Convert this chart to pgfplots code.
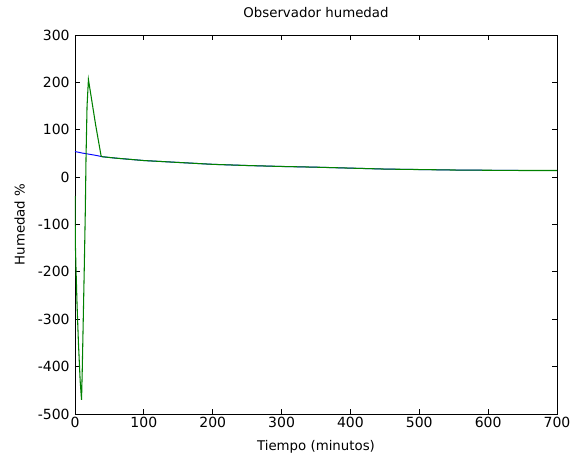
\documentclass[border=0pt]{standalone}
\usepackage{pgfplots}
\pgfplotsset{compat=1.18}
\usepackage{fontspec}
\setmainfont{DejaVu Sans}
\definecolor{mgreen}{rgb}{0,0.5,0}
\begin{document}
\begin{tikzpicture}
\useasboundingbox (-56.25pt,-31.5pt) rectangle (372pt,310.5pt);
\begin{axis}[
  at={(0,0)}, anchor=south west,
  scale only axis,
  width=361.5pt, height=284.25pt,
  xmin=0, xmax=700, ymin=-500, ymax=300,
  xtick={0,100,...,700}, ytick={-500,-400,...,300},
  tick align=inside, tick pos=both,
  major tick length=4pt,
  /pgf/number format/assume math mode=true,
  /pgf/number format/set thousands separator={},
  ticklabel style={font=\fontsize{10.5}{12}\selectfont},
  xticklabel style={yshift=1.5pt},
  yticklabel style={xshift=-0.5pt},
  title={Observador humedad},
  title style={font=\fontsize{10}{12}\selectfont, yshift=3.5pt},
  xlabel={Tiempo (minutos)},
  ylabel={Humedad \%},
  label style={font=\fontsize{10}{12}\selectfont},
  xlabel style={yshift=-3pt},
  ylabel style={yshift=3pt},
  axis line style={black, line width=0.6pt},
  every tick/.style={black, line width=0.6pt},
]
\addplot[blue, line width=0.7pt] coordinates {
(0,54) (10,51) (20,48.5) (30,46) (40,43) (60,40) (100,35) (150,31) (200,27) (250,24.5) (300,22.5) (350,21) (400,19) (450,17) (500,16) (550,15) (600,14.5) (650,14) (700,14)
};
\addplot[mgreen, line width=0.8pt] coordinates {
(0,-40) (0.5,-140) (1.5,-195) (3,-270) (5,-350) (7.5,-430) (9.5,-470) (10.5,-410) (12,-300) (13.5,-190) (15,-70) (16,40) (17.5,150) (19.5,206) (24,165) (30,110) (38,44) (40,43) (60,40) (100,35) (150,31) (200,27) (250,24.5) (300,22.5) (350,21) (400,19) (450,17) (500,16) (550,15) (600,14.5) (650,14) (700,14)
};
\end{axis}
\end{tikzpicture}
\end{document}
